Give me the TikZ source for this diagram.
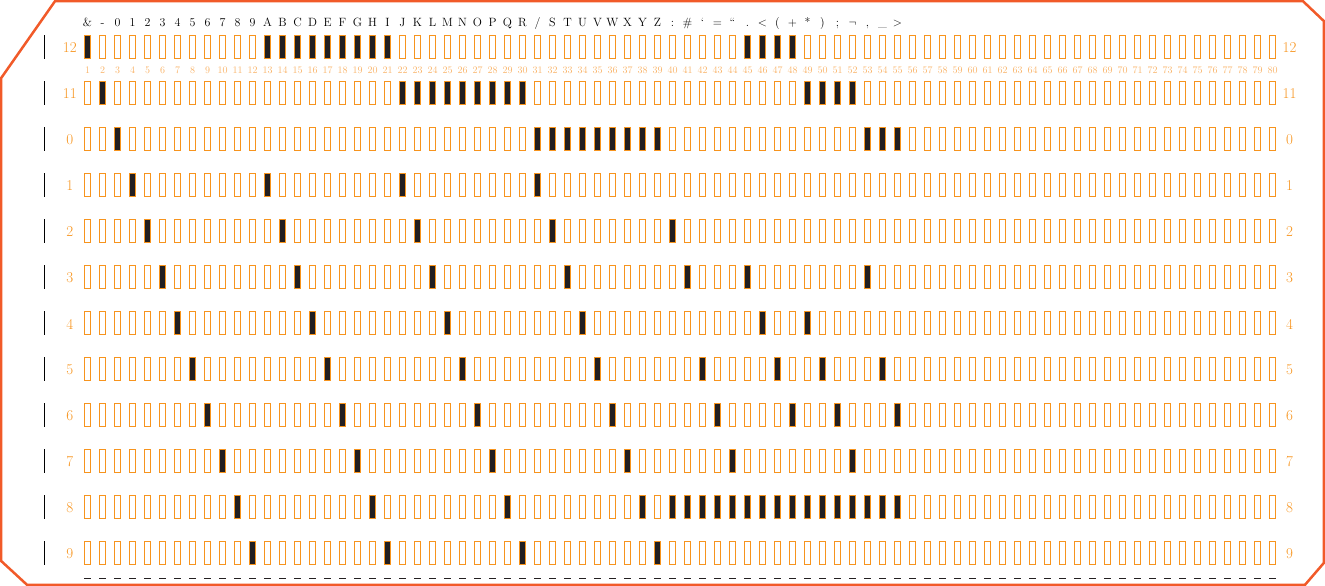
\documentclass[tikz,border=0pt]{standalone}
\usepackage{fontspec}
\definecolor{cardedge}{HTML}{F15A29}
\definecolor{holeedge}{HTML}{F7941D}
\definecolor{holefill}{HTML}{231F20}
\definecolor{rowlab}{HTML}{F7941D}
\definecolor{colnum}{HTML}{F9B46A}
\tikzset{
  hole/.style={draw=holeedge, line width=0.9pt, rectangle, inner sep=0pt,
    minimum width=5.5pt, minimum height=23pt},
  punched/.style={hole, fill=holefill},
  tickmark/.style={rectangle, fill=black, inner sep=0pt, minimum width=1pt, minimum height=24pt},
  rowlabel/.style={text=rowlab, inner sep=0pt, font=\fontsize{15}{16}\selectfont},
  colnumber/.style={text=colnum, inner sep=0pt, font=\fontsize{10}{11}\selectfont},
  charlabel/.style={text=black, inner sep=0pt, anchor=base, font=\fontsize{12}{13}\selectfont},
  cardline/.style={draw=cardedge, line width=2.5pt, line join=miter},
  bottomdash/.style={draw=holefill, line width=1pt, dash pattern=on 6.4pt off 8.6pt}
}
\begin{document}
\begin{tikzpicture}[x=1pt,y=-1pt]
\useasboundingbox (0,0) rectangle (1325,586);
% card outline
\draw[cardline] (1.2,78) -- (55,1.2) -- (1303,1.2) -- (1323.8,21) -- (1323.8,563)
  -- (1305,584.8) -- (27,584.8) -- (1.2,561) -- cycle;
% rows of holes, labels and ticks
\foreach \rn [count=\k from 0] in {12,11,0,1,2,3,4,5,6,7,8,9} {
  \node[tickmark] (t\k) at (44.3,{47+46*\k}) {};
  \node[rowlabel] (rl\k) at (69.8,{48+46*\k}) {\rn};
  \node[rowlabel] (rr\k) at (1289.5,{48+46*\k}) {\rn};
  \foreach \c in {1,...,80} {
    \node[hole] (h\k-\c) at ({87.5+15*(\c-1)},{47+46*\k}) {};
  }
}
% column numbers
\foreach \c in {1,...,80} {
  \node[colnumber] (n\c) at ({87.5+15*(\c-1)},70.5) {\c};
}
% character labels
\foreach \ch [count=\c] in {{\&},{-},0,1,2,3,4,5,6,7,8,9,A,B,C,D,E,F,G,H,I,J,K,L,M,N,O,P,Q,R,{/},S,T,U,V,W,X,Y,Z,{:},{\#},{`},{=},{``},{.},{$<$},{(},{+},{*},{)},{;},{$\neg$},{,},{\_},{$>$}} {
  \node[charlabel] (c\c) at ({87.5+15*(\c-1)},26.7) {\ch};
}
% punched holes
\foreach \k/\cols in {
  0/{1,13,14,15,16,17,18,19,20,21,45,46,47,48},
  1/{2,22,23,24,25,26,27,28,29,30,49,50,51,52},
  2/{3,31,32,33,34,35,36,37,38,39,53,54,55},
  3/{4,13,22,31},
  4/{5,14,23,32,40},
  5/{6,15,24,33,41,45,53},
  6/{7,16,25,34,46,49},
  7/{8,17,26,35,42,47,50,54},
  8/{9,18,27,36,43,48,51,55},
  9/{10,19,28,37,44,52},
  10/{11,20,29,38,40,41,42,43,44,45,46,47,48,49,50,51,52,53,54,55},
  11/{12,21,30,39}} {
  \foreach \c in \cols {
    \node[punched] (p\k-\c) at (h\k-\c) {};
  }
}
% bottom dashed guide
\coordinate (dl) at (84.2,578);
\coordinate (dr) at (1276,578);
\draw[bottomdash] (dl) -- (dr);
\end{tikzpicture}
\end{document}
